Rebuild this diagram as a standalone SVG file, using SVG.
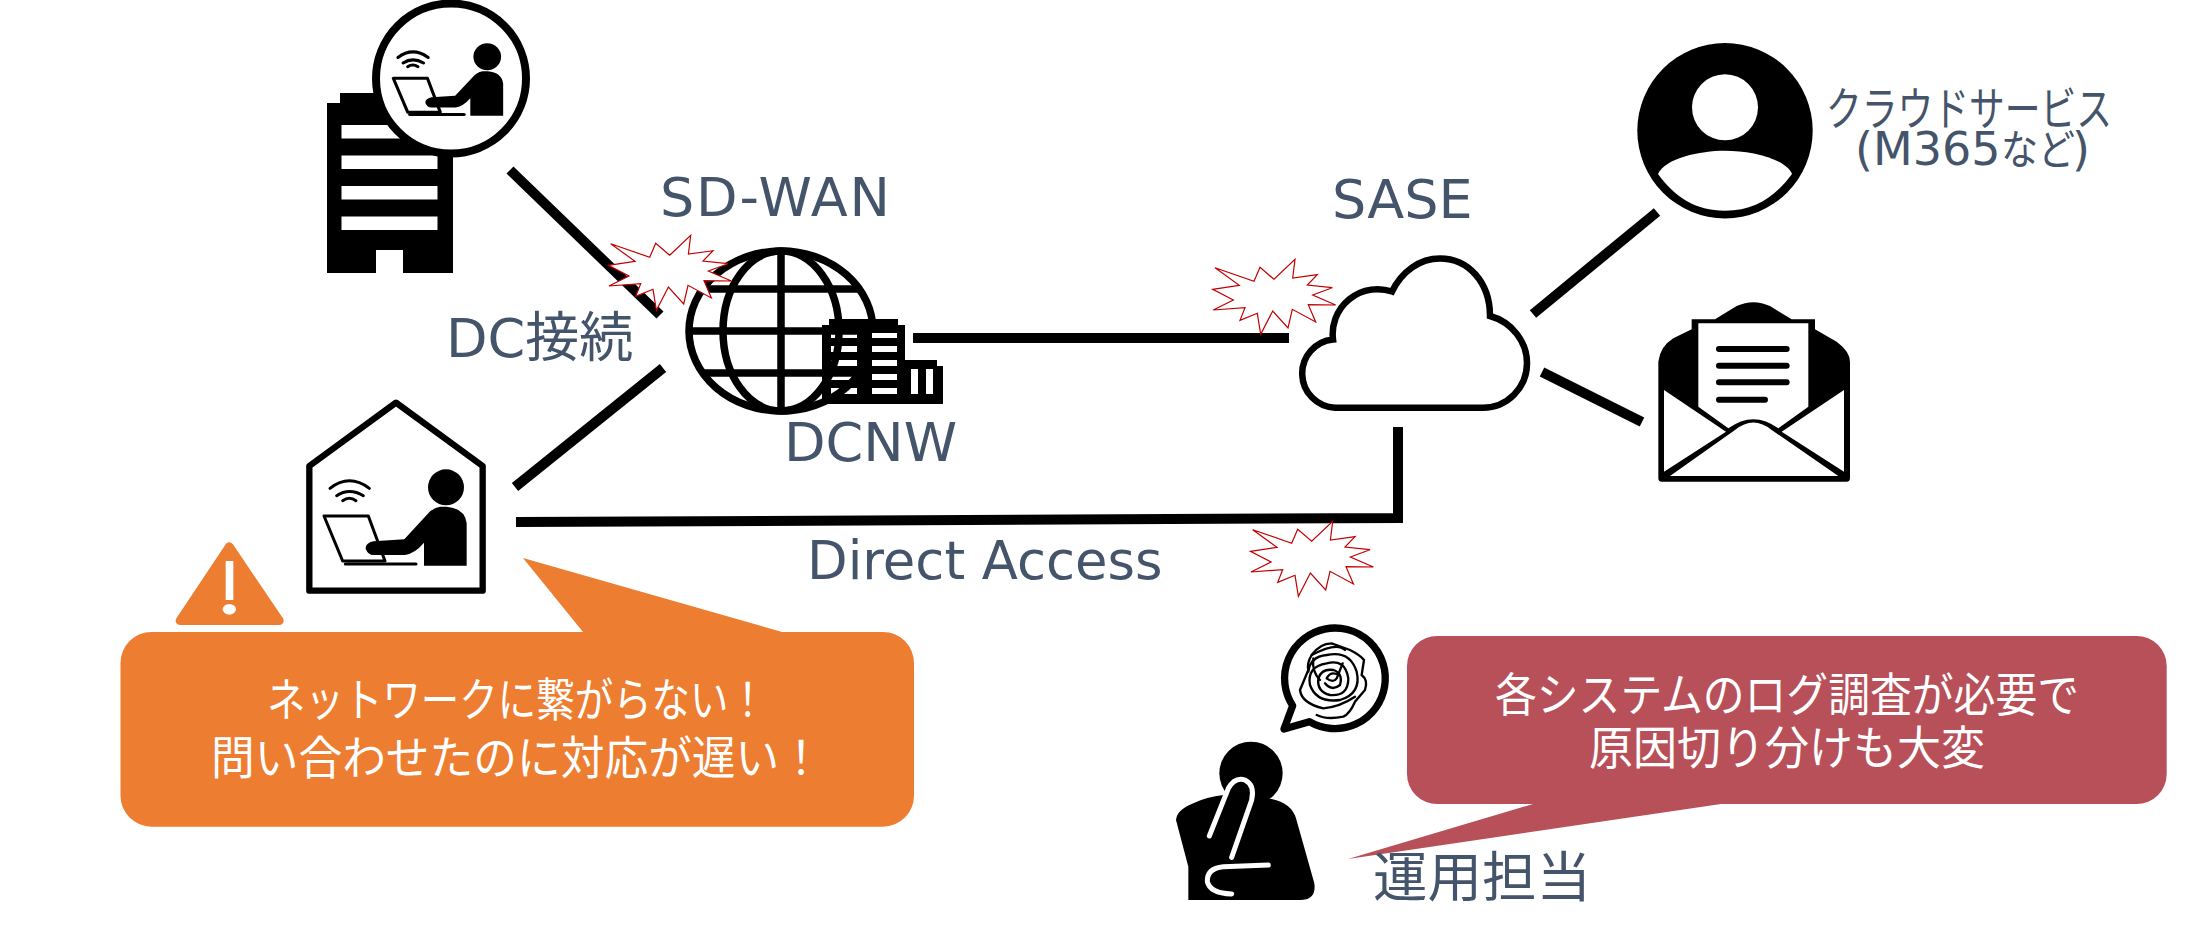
<svg xmlns="http://www.w3.org/2000/svg" xmlns:xlink="http://www.w3.org/1999/xlink" width="2204" height="942" viewBox="0 0 2204 942">
<style>
.lbl{font-family:"DejaVu Sans","Noto Sans CJK JP",sans-serif;fill:#44546A;font-size:54px}
.jp{font-family:"Noto Sans CJK JP",sans-serif}
.call{font-family:"Noto Sans CJK JP",sans-serif;fill:#fff;font-size:46px;font-weight:400}
.wire{fill:none;stroke:#000;stroke-width:10}
.burst{fill:#fff;stroke:#C00000;stroke-width:1.2}
.ink{fill:none;stroke:#000}
</style>
<defs>
<polygon id="burst" class="burst" points="15,27.7 54,41.3 60,27.3 74,39.3 95,19.3 92.7,38 117.3,34.7 107.3,45 132.3,47.7 112.7,55 135.7,65 108.3,64.7 115.7,82 92.3,69.3 88,88 72.7,71 60.7,94.3 57.3,73.3 40,80.3 45,67.7 13.3,70 33.3,60 12.7,49.3 39.3,45.3"/>
<!-- seated worker with laptop and wifi; line weight comes from the referencing element -->
<g id="worker">
<path fill="none" stroke="#000" stroke-linecap="round" d="M510,325Q568,280 628,325M530,347Q568,322 610,347M548,362Q568,348 588,362"/>
<polygon points="492,408 625,408 675,543 548,543" fill="#fff" stroke="#000" stroke-linejoin="round"/>
<path fill="none" stroke="#000" stroke-linecap="round" d="M556,552H768"/>
<circle cx="858" cy="322" r="54" stroke="none"/>
<path stroke="none" d="M792,557H920V430Q915,385 860,380H840Q815,385 800,405L733,478 640,484Q615,490 617,507 625,525 640,525H735Q765,520 792,488Z"/>
</g>
</defs>

<g id="office">
<path d="M327,273V103H340V93H453V273H403V250H376V273Z"/>
<g fill="#fff">
<rect x="341.500" y="125" width="96" height="13.500"/>
<rect x="341.500" y="155.500" width="96" height="13.500"/>
<rect x="341.500" y="186" width="96" height="13.500"/>
<rect x="341.500" y="216.500" width="96" height="13.500"/>
</g>
<circle cx="451" cy="78.500" r="75" fill="#fff" stroke="#000" stroke-width="8"/>
<use xlink:href="#worker" href="#worker" stroke-width="12" transform="translate(267,-24) scale(.2567,.2507)"/>
</g>

<g id="connectors">
<path class="wire" d="M510,170L660,315"/>
<path class="wire" d="M663,368L515,487"/>
<path class="wire" d="M913,338H1289"/>
<path class="wire" d="M516,522L1398,518V427"/>
<path class="wire" d="M1533,314L1657,212"/>
<path class="wire" d="M1542,372L1642,422"/>
</g>

<g id="sdwan-globe">
<ellipse cx="781" cy="331" rx="92" ry="80" fill="#fff" stroke="#000" stroke-width="7.500"/>
<ellipse cx="781" cy="331" rx="58" ry="80" class="ink" stroke-width="7.500"/>
<path class="ink" stroke-width="7.500" d="M781,251V411M702,289H860M690,331H872M702,373H860"/>
</g>
<g id="dc-network">
<path fill-rule="evenodd" d="M822,404V325H829V319H898V325H905V366V360H937V366H943V404ZM831,333V338H857V333ZM872,333V338H897V333ZM831,346V352H857V346ZM872,346V352H897V346ZM831,360V366H857V360ZM872,360V366H897V360ZM831,374V380H857V374ZM872,374V380H897V374ZM831,388V394H857V388ZM872,388V394H897V388ZM911,369V394H918V369ZM926,369V394H933V369Z"/>
<path fill="#fff" d="M872,333h25v5h-25zM872,346h25v6h-25zM872,360h25v6h-25zM872,374h25v6h-25zM872,388h25v6h-25zM911,369h7v25h-7zM926,369h7v25h-7z"/>
</g>

<use id="burst-dc" xlink:href="#burst" href="#burst" x="595.700" y="216"/>
<use id="burst-sase" xlink:href="#burst" href="#burst" x="1200" y="240"/>
<use id="burst-direct" xlink:href="#burst" href="#burst" x="1237.700" y="502"/>

<g id="sase-cloud">
<path fill="#fff" stroke="#000" stroke-width="6.500" d="M1335,407.700A34.200,34.200 0 0 1 1333,339.500A45,45 0 0 1 1392,291.500C1402,271 1420,258.500 1440,258.500C1468,258.500 1490,282 1490,316C1512,322 1527,342 1527,363C1527,388 1507,407.700 1483,407.700Z"/>
</g>

<g id="cloud-service">
<circle cx="1725" cy="130.700" r="87.700"/>
<circle cx="1725" cy="107.300" r="33" fill="#fff"/>
<path fill="#fff" d="M1658,174C1665,158 1700,150.700 1725,150.700C1750,150.700 1785,158 1792,174C1775,197 1755,210.700 1725,210.700C1695,210.700 1675,197 1658,174Z"/>
<text class="lbl jp" x="1826" y="125" style="font-size:46px" textLength="286" lengthAdjust="spacingAndGlyphs">クラウドサービス</text>
<text class="lbl" x="1855" y="165" style="font-size:46px">(M365<tspan class="jp" x="2001" style="font-size:42px" textLength="74" lengthAdjust="spacingAndGlyphs">など</tspan><tspan x="2072">)</tspan></text>
</g>

<g id="mail" transform="translate(1640,290) scale(.33333)">
<path d="M55,565V215Q60,170 100,145L155,118V88H225L290,48Q340,25 390,48L455,88H525V118L590,155Q630,185 630,215V565Q630,575 620,575H65Q55,575 55,565Z"/>
<path fill="#fff" d="M175,100H505V350L415,415Q340,360 265,415L175,350Z"/>
<path fill="#fff" d="M72,300L258,425 72,545ZM612,300V545L425,425ZM90,558L285,420Q340,375 395,420L595,558Z"/>
<path class="ink" stroke-width="18" stroke-linecap="round" d="M237,177H440M237,227H440M237,277H440M237,329H375"/>
</g>

<g id="home-user">
<g transform="translate(160,380) scale(.33333)">
<path d="M708,68L448,258V632H968V258Z" fill="#fff" stroke="#000" stroke-width="19" stroke-linejoin="round"/>
<use xlink:href="#worker" href="#worker" stroke-width="9"/>
</g>
</g>

<g id="warning" transform="translate(160,380) scale(.33333)">
<polygon points="208,500 60,722 358,722" fill="#ED7D31" stroke="#ED7D31" stroke-width="26" stroke-linejoin="round"/>
<rect x="197" y="543" width="23" height="117" fill="#fff"/>
<ellipse cx="208" cy="688" rx="20" ry="16" fill="#fff"/>
</g>

<g id="user-callout">
<path fill="#ED7D31" d="M151.500,632H583L523,558 782,632H883A31,31 0 0 1 914,663V795.700A31,31 0 0 1 883,826.700H151.500A31,31 0 0 1 120.500,795.700V663A31,31 0 0 1 151.500,632Z"/>
<text class="call" x="267" y="716" textLength="500" lengthAdjust="spacingAndGlyphs">ネットワークに繋がらない！</text>
<text class="call" x="211" y="774" textLength="612" lengthAdjust="spacingAndGlyphs">問い合わせたのに対応が遅い！</text>
</g>

<g id="ops-callout">
<path fill="#B85059" d="M1437,636H2136.700A30,30 0 0 1 2166.700,666V774A30,30 0 0 1 2136.700,804H1721L1348,859 1533,804H1437A30,30 0 0 1 1407,774V666A30,30 0 0 1 1437,636Z"/>
<text class="call" x="1495" y="711" textLength="584" lengthAdjust="spacingAndGlyphs">各システムのログ調査が必要で</text>
<text class="call" x="1589" y="764" textLength="396" lengthAdjust="spacingAndGlyphs">原因切り分けも大変</text>
</g>

<g id="operator">
<g transform="translate(1160,600) scale(.33333)">
<circle cx="273" cy="520" r="95"/>
<path d="M85,900V800L48,660Q50,630 100,610Q140,590 190,585L335,597Q395,610 408,655L463,850Q470,900 420,900Z"/>
<g fill="none" stroke="#fff" stroke-width="15" stroke-linecap="round">
<path d="M148,708L205,565Q225,530 255,540Q285,555 275,600L215,772"/>
<path d="M325,795L190,800Q140,805 142,845Q150,880 215,882"/>
</g>
<path d="M398,317A151,151 0 1 1 448,365L372,387Z" fill="#fff" stroke="#000" stroke-width="22" stroke-linejoin="round"/>
<!-- tangled scribble inside the thought bubble -->
<g class="ink" stroke-width="7" stroke-linecap="round">
<path d="M470,345Q500,360 550,350Q570,340 585,305L615,270Q625,240 605,225L612,180Q600,165 570,150L515,130Q480,130 455,165Q440,190 445,210L420,270Q425,310 490,325Q540,320 585,290"/>
<path d="M445,215Q450,170 500,165Q570,150 590,215Q605,280 540,300Q470,310 450,255Q440,200 500,190Q555,175 565,235Q565,290 510,285Q470,275 475,235Q485,205 520,210Q550,220 540,255Q515,275 495,250"/>
<path d="M500,235Q520,250 530,235L548,190M500,235Q510,215 530,222"/>
<path d="M455,165Q530,125 555,150M460,175Q455,215 480,240"/>
</g>
</g>
<text class="lbl jp" x="1373" y="897" textLength="218" lengthAdjust="spacingAndGlyphs">運用担当</text>
</g>

<g id="labels">
<text class="lbl" x="660" y="216" textLength="230">SD-WAN</text>
<text class="lbl" x="1332" y="218">SASE</text>
<text class="lbl" x="446" y="357">DC接続</text>
<text class="lbl" x="784" y="461">DCNW</text>
<text class="lbl" x="807" y="579" style="font-size:52.800px">Direct Access</text>
</g>
</svg>
